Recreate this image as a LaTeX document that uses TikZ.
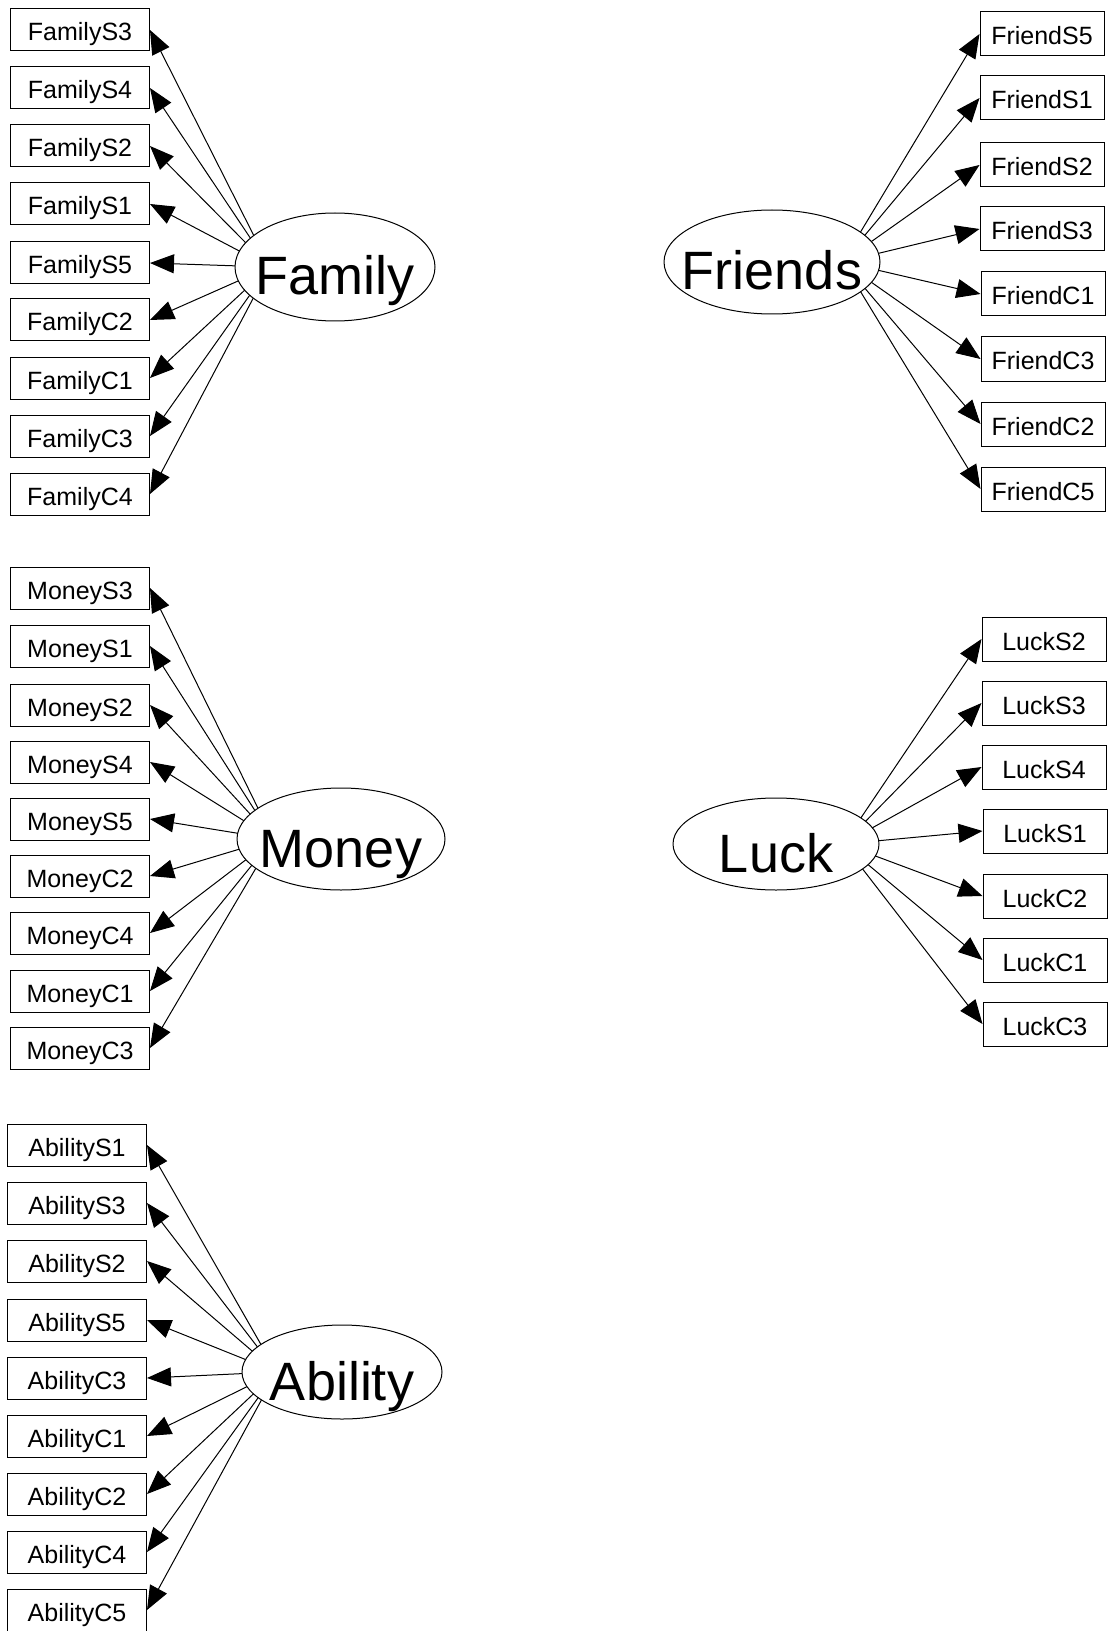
\documentclass[tikz,border=0pt]{standalone}
\usepackage{fontspec}
\setmainfont{Liberation Sans}
\usepackage{tikz}
\usetikzlibrary{positioning, shapes, arrows.meta, calc, backgrounds}

\tikzset{
  indicator/.style={draw, rectangle, line width=0.5pt, inner sep=0pt, minimum height=21pt, text height=11pt, text depth=0pt, font=\fontsize{12.5}{14}\selectfont},
  left indicator/.style={indicator, minimum width=69.5pt},
  right indicator/.style={indicator, minimum width=62pt, minimum height=22pt},
  factor/.style={draw, ellipse, line width=0.5pt, fill=white, inner sep=0pt, text height=28pt, text depth=0pt, font=\fontsize{27}{30}\selectfont},
  loading/.style={line width=0.5pt, -{Triangle[length=12pt, width=9.5pt]}}
}

\begin{document}
\begin{tikzpicture}[x=0.5pt, y=-0.5pt]
\useasboundingbox (0,0) rectangle (1109,1631);

% Family (fator latente)
\node[factor, minimum width=100pt, minimum height=54pt] (Family) at (335,267) {\makebox[0pt]{Family}};
\coordinate (FamilyHub) at ($(Family.west)!0.35!(Family.center)$);
\node[left indicator] (FamilyS3) at (80,30) {FamilyS3};
\node[left indicator] (FamilyS4) at (80,88) {FamilyS4};
\node[left indicator] (FamilyS2) at (80,146) {FamilyS2};
\node[left indicator] (FamilyS1) at (80,204) {FamilyS1};
\node[left indicator] (FamilyS5) at (80,263) {FamilyS5};
\node[left indicator] (FamilyC2) at (80,320) {FamilyC2};
\node[left indicator] (FamilyC1) at (80,378) {FamilyC1};
\node[left indicator] (FamilyC3) at (80,436) {FamilyC3};
\node[left indicator] (FamilyC4) at (80,494) {FamilyC4};

% Friends (fator latente)
\node[factor, minimum width=108pt, minimum height=52pt] (Friends) at (772,262) {\makebox[0pt]{Friends}};
\coordinate (FriendsHub) at ($(Friends.east)!0.35!(Friends.center)$);
\node[right indicator] (FriendS5) at (1042,34) {FriendS5};
\node[right indicator] (FriendS1) at (1042,98) {FriendS1};
\node[right indicator] (FriendS2) at (1042,165) {FriendS2};
\node[right indicator] (FriendS3) at (1042,229) {FriendS3};
\node[right indicator] (FriendC1) at (1043,294) {FriendC1};
\node[right indicator] (FriendC3) at (1043,359) {FriendC3};
\node[right indicator] (FriendC2) at (1043,424) {FriendC2};
\node[right indicator] (FriendC5) at (1043,489) {FriendC5};

% Money (fator latente)
\node[factor, minimum width=104pt, minimum height=51pt] (Money) at (341,839) {\makebox[0pt]{Money}};
\coordinate (MoneyHub) at ($(Money.west)!0.35!(Money.center)$);
\node[left indicator] (MoneyS3) at (80,588) {MoneyS3};
\node[left indicator] (MoneyS1) at (80,646) {MoneyS1};
\node[left indicator] (MoneyS2) at (80,705) {MoneyS2};
\node[left indicator] (MoneyS4) at (80,762) {MoneyS4};
\node[left indicator] (MoneyS5) at (80,819) {MoneyS5};
\node[left indicator] (MoneyC2) at (80,876) {MoneyC2};
\node[left indicator] (MoneyC4) at (80,933) {MoneyC4};
\node[left indicator] (MoneyC1) at (80,991) {MoneyC1};
\node[left indicator] (MoneyC3) at (80,1048) {MoneyC3};

% Luck (fator latente)
\node[factor, minimum width=103pt, minimum height=46pt] (Luck) at (776,844) {\makebox[0pt]{Luck}};
\coordinate (LuckHub) at ($(Luck.east)!0.35!(Luck.center)$);
\node[right indicator] (LuckS2) at (1044,639) {LuckS2};
\node[right indicator] (LuckS3) at (1044,703) {LuckS3};
\node[right indicator] (LuckS4) at (1044,767) {LuckS4};
\node[right indicator] (LuckS1) at (1045,831) {LuckS1};
\node[right indicator] (LuckC2) at (1045,896) {LuckC2};
\node[right indicator] (LuckC1) at (1045,960) {LuckC1};
\node[right indicator] (LuckC3) at (1045,1024) {LuckC3};

% Ability (fator latente)
\node[factor, minimum width=100pt, minimum height=47pt] (Ability) at (342,1372) {\makebox[0pt]{Ability}};
\coordinate (AbilityHub) at ($(Ability.west)!0.35!(Ability.center)$);
\node[left indicator] (AbilityS1) at (77,1145) {AbilityS1};
\node[left indicator] (AbilityS3) at (77,1203) {AbilityS3};
\node[left indicator] (AbilityS2) at (77,1261) {AbilityS2};
\node[left indicator] (AbilityS5) at (77,1320) {AbilityS5};
\node[left indicator] (AbilityC3) at (77,1378) {AbilityC3};
\node[left indicator] (AbilityC1) at (77,1436) {AbilityC1};
\node[left indicator] (AbilityC2) at (77,1494) {AbilityC2};
\node[left indicator] (AbilityC4) at (77,1552) {AbilityC4};
\node[left indicator] (AbilityC5) at (77,1610) {AbilityC5};

% Cargas fatoriais
\begin{scope}[on background layer]
\path (FamilyHub) edge[loading] (FamilyS3.east) edge[loading] (FamilyS4.east)
  edge[loading] (FamilyS2.east) edge[loading] (FamilyS1.east) edge[loading] (FamilyS5.east)
  edge[loading] (FamilyC2.east) edge[loading] (FamilyC1.east) edge[loading] (FamilyC3.east)
  edge[loading] (FamilyC4.east);
\path (FriendsHub) edge[loading] (FriendS5.west) edge[loading] (FriendS1.west)
  edge[loading] (FriendS2.west) edge[loading] (FriendS3.west) edge[loading] (FriendC1.west)
  edge[loading] (FriendC3.west) edge[loading] (FriendC2.west) edge[loading] (FriendC5.west);
\path (MoneyHub) edge[loading] (MoneyS3.east) edge[loading] (MoneyS1.east)
  edge[loading] (MoneyS2.east) edge[loading] (MoneyS4.east) edge[loading] (MoneyS5.east)
  edge[loading] (MoneyC2.east) edge[loading] (MoneyC4.east) edge[loading] (MoneyC1.east)
  edge[loading] (MoneyC3.east);
\path (LuckHub) edge[loading] (LuckS2.west) edge[loading] (LuckS3.west)
  edge[loading] (LuckS4.west) edge[loading] (LuckS1.west) edge[loading] (LuckC2.west)
  edge[loading] (LuckC1.west) edge[loading] (LuckC3.west);
\path (AbilityHub) edge[loading] (AbilityS1.east) edge[loading] (AbilityS3.east)
  edge[loading] (AbilityS2.east) edge[loading] (AbilityS5.east) edge[loading] (AbilityC3.east)
  edge[loading] (AbilityC1.east) edge[loading] (AbilityC2.east) edge[loading] (AbilityC4.east)
  edge[loading] (AbilityC5.east);
\end{scope}

\end{tikzpicture}
\end{document}
